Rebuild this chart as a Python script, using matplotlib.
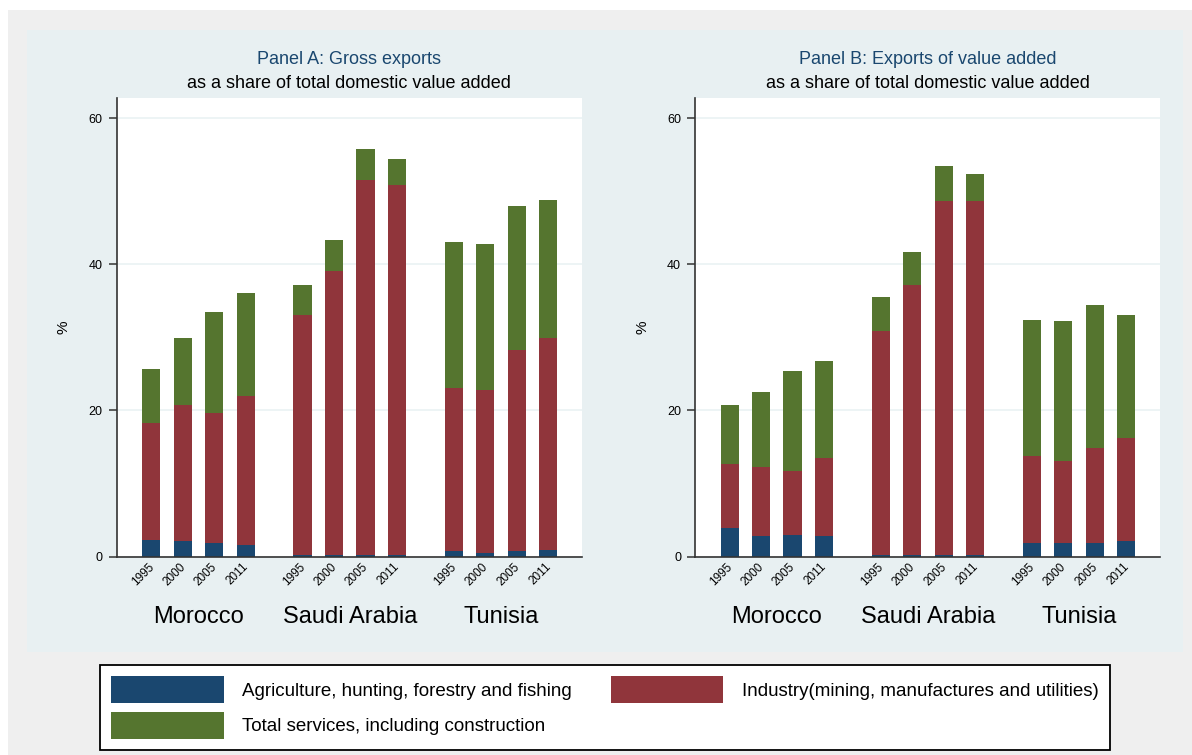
import numpy as np
import matplotlib
matplotlib.use('Agg')
import matplotlib.pyplot as plt
from matplotlib.patches import Rectangle
from matplotlib.transforms import ScaledTranslation, blended_transform_factory

plt.rcParams['font.family'] = ['Liberation Sans', 'DejaVu Sans']

countries = ['Morocco', 'Saudi Arabia', 'Tunisia']
years = ['1995', '2000', '2005', '2011']

# Panel A: gross exports (% of total domestic value added)
agri_a = [2.3, 2.1, 1.8, 1.6, 0.2, 0.2, 0.2, 0.2, 0.7, 0.5, 0.7, 0.9]
industry_a = [15.9, 18.6, 17.9, 20.4, 32.8, 38.9, 51.3, 50.6, 22.4, 22.3, 27.6, 29.0]
services_a = [7.4, 9.2, 13.8, 14.0, 4.2, 4.2, 4.2, 3.6, 19.9, 19.9, 19.6, 18.9]

# Panel B: exports of value added
agri_b = [3.9, 2.8, 2.9, 2.8, 0.2, 0.2, 0.2, 0.2, 1.9, 1.8, 1.8, 2.1]
industry_b = [8.7, 9.4, 8.8, 10.7, 30.6, 36.9, 48.5, 48.5, 11.8, 11.3, 13.0, 14.1]
services_b = [8.1, 10.3, 13.7, 13.3, 4.7, 4.5, 4.8, 3.7, 18.7, 19.1, 19.6, 16.8]

sectors = ['Agriculture, hunting, forestry and fishing',
           'Industry(mining, manufactures and utilities)',
           'Total services, including construction']
colors = ['#1a476f', '#90353b', '#55752f']

W, H = 1192, 755
fig = plt.figure(figsize=(W / 100, H / 100), dpi=100, facecolor='white')

def px(x0, y0, x1, y1):
    # pixel box (top-left origin) -> figure fraction rect
    return [x0 / W, 1 - y1 / H, (x1 - x0) / W, (y1 - y0) / H]

fig.patches.append(Rectangle((8 / W, 0), 1, 1 - 10 / H, transform=fig.transFigure,
                             facecolor='#efefef', edgecolor='none', zorder=-3))
fig.patches.append(Rectangle((27 / W, 1 - 652 / H), (1183 - 27) / W, (652 - 30) / H,
                             transform=fig.transFigure, facecolor='#e8f0f2',
                             edgecolor='none', zorder=-2))

pos = np.array([g * 4.8 + i for g in range(len(countries)) for i in range(len(years))])

panels = [
    (px(116.7, 98.3, 582, 556.5), 'Panel A: Gross exports', agri_a, industry_a, services_a),
    (px(695, 98.3, 1160, 556.5), 'Panel B: Exports of value added', agri_b, industry_b, services_b),
]

handles = []
for rect, title, agri, ind, serv in panels:
    ax = fig.add_axes(rect)
    agri = np.array(agri)
    ind = np.array(ind)
    serv = np.array(serv)
    b1 = ax.bar(pos, agri, width=0.58, color=colors[0], zorder=2)
    b2 = ax.bar(pos, ind, bottom=agri, width=0.58, color=colors[1], zorder=2)
    b3 = ax.bar(pos, serv, bottom=agri + ind, width=0.58, color=colors[2], zorder=2)
    handles = [b1, b2, b3]

    ax.set_xlim(-1.1, 13.67)
    ax.set_ylim(0, 62.7)
    ax.set_yticks([0, 20, 40, 60])
    ax.yaxis.grid(True, color='#eaf2f3', linewidth=1.2, zorder=0)
    ax.set_axisbelow(True)
    for s in ['top', 'right']:
        ax.spines[s].set_visible(False)
    for s in ['left', 'bottom']:
        ax.spines[s].set_color('#333333')
        ax.spines[s].set_linewidth(1.2)
    ax.tick_params(axis='y', length=6, width=1.1, color='#333333', labelsize=9, pad=4)
    ax.set_ylabel('%', fontsize=11, labelpad=13)

    ax.set_xticks(pos, labels=years * len(countries), rotation=45, ha='right',
                  va='top', fontsize=8.5)
    ax.tick_params(axis='x', length=0, pad=3)
    for lab in ax.get_xticklabels():
        lab.set_transform(lab.get_transform() + ScaledTranslation(5 / 100, 0, fig.dpi_scale_trans))

    tr = blended_transform_factory(ax.transData, ax.transAxes)
    for g, c in enumerate(countries):
        xc = pos[g * 4:(g + 1) * 4].mean()
        ax.text(xc, -60 / 458, c, transform=tr, ha='center', va='center', fontsize=17)

    ax.text(0.5, 1 + 39 / 458, title, transform=ax.transAxes, ha='center', va='center',
            fontsize=13, color='#1a476f')
    ax.text(0.5, 1 + 15 / 458, 'as a share of total domestic value added',
            transform=ax.transAxes, ha='center', va='center', fontsize=13, color='black')

leg = fig.legend([handles[0], handles[2], handles[1]], [sectors[0], sectors[2], sectors[1]],
                 ncol=2, mode='expand', loc='center',
                 bbox_to_anchor=(100 / W, 1 - 752 / H, 1010 / W, 89 / H),
                 fontsize=13.5, handlelength=6.0, handleheight=1.85, handletextpad=1.0,
                 labelspacing=0.45, borderpad=0.6, borderaxespad=0,
                 fancybox=False, framealpha=1, edgecolor='black')
leg.get_frame().set_linewidth(1.3)

fig.savefig('out.png', dpi=100, facecolor=fig.get_facecolor())
